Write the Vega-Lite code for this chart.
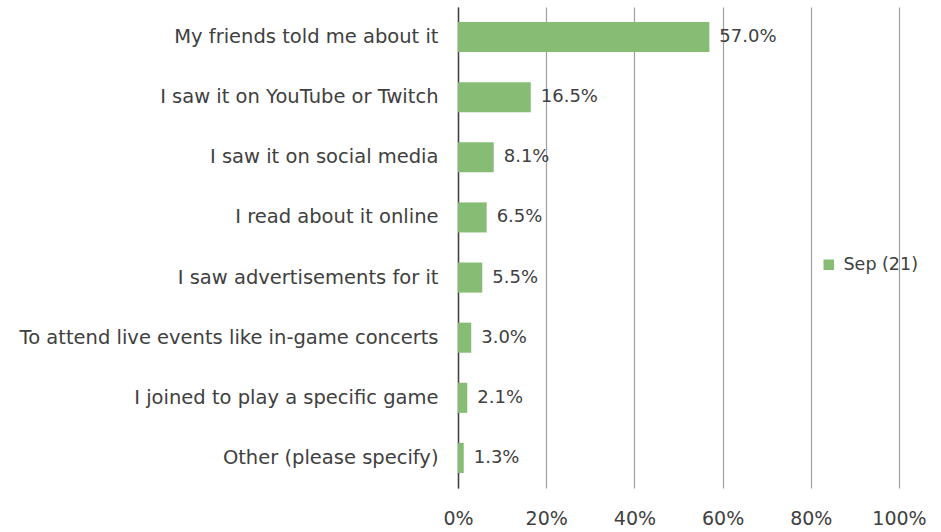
{
  "$schema": "https://vega.github.io/schema/vega-lite/v6.json",
  "autosize": {"type": "none"},
  "width": 441,
  "height": 481,
  "padding": {"left": 458, "top": 7, "right": 42, "bottom": 44},
  "background": "white",
  "config": {
    "view": {"stroke": null},
    "font": "DejaVu Sans",
    "text": {"font": "DejaVu Sans"}
  },
  "data": {
    "values": [
      {"reason": "My friends told me about it", "share": 0.570, "series": "Sep (21)"},
      {"reason": "I saw it on YouTube or Twitch", "share": 0.165, "series": "Sep (21)"},
      {"reason": "I saw it on social media", "share": 0.081, "series": "Sep (21)"},
      {"reason": "I read about it online", "share": 0.065, "series": "Sep (21)"},
      {"reason": "I saw advertisements for it", "share": 0.055, "series": "Sep (21)"},
      {"reason": "To attend live events like in-game concerts", "share": 0.030, "series": "Sep (21)"},
      {"reason": "I joined to play a specific game", "share": 0.021, "series": "Sep (21)"},
      {"reason": "Other (please specify)", "share": 0.013, "series": "Sep (21)"}
    ]
  },
  "encoding": {
    "y": {
      "field": "reason",
      "type": "nominal",
      "sort": null,
      "title": null,
      "scale": {"paddingInner": 0.5, "paddingOuter": 0.25},
      "axis": {
        "ticks": false,
        "domain": true,
        "domainColor": "#404040",
        "domainWidth": 1.5,
        "labelFontSize": 19.5,
        "labelColor": "#404040",
        "labelPadding": 20,
        "labelLimit": 500
      }
    },
    "x": {
      "field": "share",
      "type": "quantitative",
      "title": null,
      "scale": {"domain": [0, 1], "nice": false},
      "axis": {
        "format": ".0%",
        "values": [0, 0.2, 0.4, 0.6, 0.8, 1],
        "domain": false,
        "ticks": false,
        "grid": true,
        "gridColor": "#a0a0a0",
        "gridWidth": 1.2,
        "labelFontSize": 19,
        "labelColor": "#404040",
        "labelPadding": 21,
        "labelFlush": false,
        "labelOverlap": false
      }
    }
  },
  "layer": [
    {
      "mark": {"type": "bar"},
      "encoding": {
        "color": {
          "field": "series",
          "type": "nominal",
          "scale": {"range": ["#86bc74"]},
          "legend": {
            "title": null,
            "orient": "none",
            "legendX": 362,
            "legendY": 249,
            "symbolType": "square",
            "symbolSize": 110,
            "symbolStrokeWidth": 0,
            "labelFontSize": 17.5,
            "labelColor": "#404040",
            "labelOffset": 6
          }
        }
      }
    },
    {
      "mark": {"type": "text", "align": "left", "baseline": "middle", "dx": 10, "fontSize": 18, "color": "#404040"},
      "encoding": {
        "text": {"field": "share", "type": "quantitative", "format": ".1%"}
      }
    }
  ]
}
